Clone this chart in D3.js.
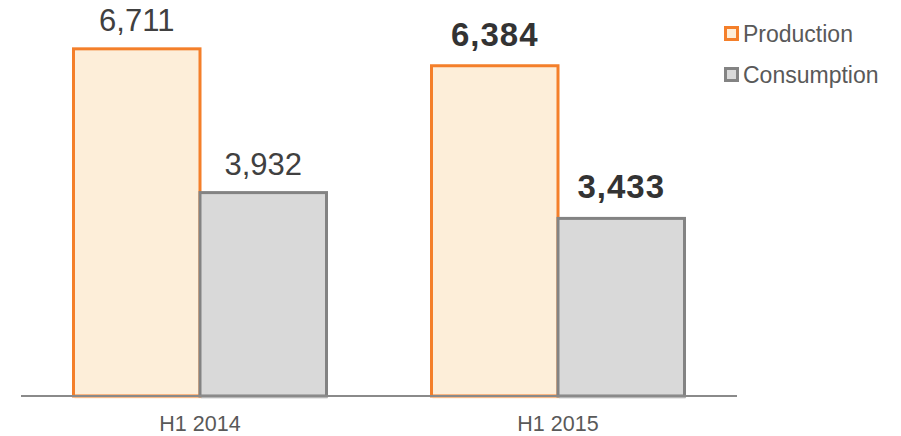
<meta charset="utf-8">
<head>
<style>
  body { margin: 0; background: #fff; }
  svg text { font-family: "Liberation Sans", Arial, sans-serif; }
</style>
</head>
<body>
<div id="chartId"></div>
</body>
<script src="https://d3js.org/d3.v7.min.js"></script>
<script>

// data
var categories = ["H1 2014", "H1 2015"];
var seriesNames = ["Production", "Consumption"];
var production = [6711, 6384];
var consumption = [3932, 3433];
var boldLabels = [false, true];

var width = 901, height = 436;
var baseY = 396;

var svg = d3.select("#chartId").append("svg")
	.attr("width", width)
	.attr("height", height);

var x0 = d3.scaleBand()
	.domain(categories)
	.range([21, 737]);

var x1 = d3.scaleBand()
	.domain(seriesNames)
	.range([52.5, 305.5]);

var y = d3.scaleLinear()
	.domain([0, 7655])
	.range([baseY, 0]);

var styles = {
	"Production": { fill: "#fdeed9", stroke: "#f47f2a" },
	"Consumption": { fill: "#d9d9d9", stroke: "#838383" }
};

var rows = categories.map(function(c, i) {
	return {
		cat: c,
		bold: boldLabels[i],
		vals: [
			{ name: "Production", v: production[i] },
			{ name: "Consumption", v: consumption[i] }
		]
	};
});

var groups = svg.selectAll("g.grp")
	.data(rows)
	.enter()
	.append("g")
	.attr("class", "grp")
	.attr("transform", function(d) { return "translate(" + x0(d.cat) + ",0)"; });

// faint shadow under bars
groups.selectAll("rect.shadow")
	.data(function(d) { return d.vals; })
	.enter()
	.append("rect")
	.attr("class", "shadow")
	.attr("x", function(d) { return x1(d.name) + 1; })
	.attr("y", baseY)
	.attr("width", x1.bandwidth())
	.attr("height", 3)
	.attr("fill", function(d) { return styles[d.name].fill; })
	.attr("opacity", 0.6);

groups.selectAll("rect.bar")
	.data(function(d) { return d.vals; })
	.enter()
	.append("rect")
	.attr("class", "bar")
	.attr("x", function(d) { return x1(d.name); })
	.attr("y", function(d) { return y(d.v); })
	.attr("width", x1.bandwidth())
	.attr("height", function(d) { return baseY - y(d.v); })
	.attr("fill", function(d) { return styles[d.name].fill; })
	.attr("stroke", function(d) { return styles[d.name].stroke; })
	.attr("stroke-width", 3);

groups.each(function(row) {
	d3.select(this).selectAll("text.val")
		.data(row.vals)
		.enter()
		.append("text")
		.attr("class", "val")
		.attr("x", function(d) { return x1(d.name) + x1.bandwidth() / 2; })
		.attr("y", function(d) { return y(d.v) - (row.bold ? 20 : 18); })
		.attr("text-anchor", "middle")
		.attr("font-size", row.bold ? 33 : 31)
		.attr("font-weight", row.bold ? "bold" : "normal")
		.attr("letter-spacing", row.bold ? 1 : 0)
		.attr("fill", row.bold ? "#333333" : "#404040")
		.text(function(d) { return d3.format(",")(d.v); });
});

// axis line
svg.append("line")
	.attr("x1", 21).attr("x2", 737)
	.attr("y1", baseY).attr("y2", baseY)
	.attr("stroke", "#8a8a8a")
	.attr("stroke-width", 2);

svg.selectAll("text.cat")
	.data(categories)
	.enter()
	.append("text")
	.attr("class", "cat")
	.attr("x", function(d) { return x0(d) + x0.bandwidth() / 2; })
	.attr("y", 431)
	.attr("text-anchor", "middle")
	.attr("font-size", 21.5)
	.attr("fill", "#595959")
	.text(function(d) { return d; });

// legend
var legend = svg.selectAll("g.leg")
	.data(seriesNames)
	.enter()
	.append("g")
	.attr("class", "leg")
	.attr("transform", function(d, i) { return "translate(725.5," + (27.5 + i * 41) + ")"; });

legend.append("rect")
	.attr("width", 12).attr("height", 12)
	.attr("fill", function(d) { return styles[d].fill; })
	.attr("stroke", function(d) { return styles[d].stroke; })
	.attr("stroke-width", 3);

legend.append("text")
	.attr("x", 17.5)
	.attr("y", 14)
	.attr("font-size", 23)
	.attr("fill", "#595959")
	.text(function(d) { return d; });

</script>
